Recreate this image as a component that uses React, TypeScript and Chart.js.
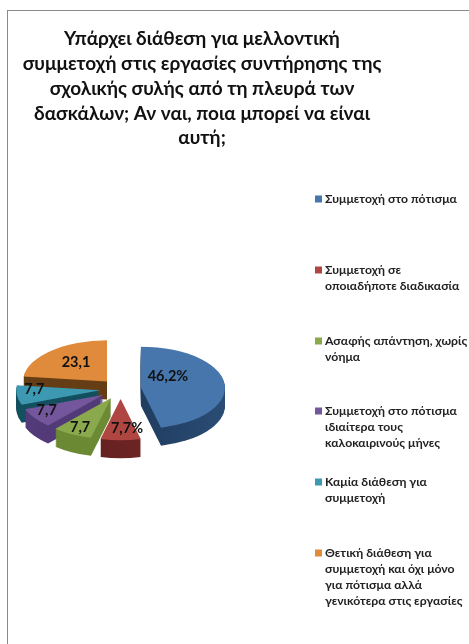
import React, { useEffect, useRef } from "react";
import { Chart, registerables } from "chart.js";

Chart.register(...registerables);

const titleLines = [
  "Υπάρχει διάθεση για μελλοντική",
  "συμμετοχή στις εργασίες συντήρησης της",
  "σχολικής συλής από τη πλευρά των",
  "δασκάλων; Αν ναι, ποια μπορεί να είναι",
  "αυτή;",
];
const legendLines = [
  ["Συμμετοχή στο πότισμα"],
  ["Συμμετοχή σε", "οποιαδήποτε διαδικασία"],
  ["Ασαφής απάντηση, χωρίς", "νόημα"],
  ["Συμμετοχή στο πότισμα", "ιδιαίτερα τους", "καλοκαιρινούς μήνες"],
  ["Καμία διάθεση για", "συμμετοχή"],
  ["Θετική διάθεση για", "συμμετοχή και όχι μόνο", "για πότισμα αλλά", "γενικότερα στις εργασίες"],
];
const values = [46.2, 7.7, 7.7, 7.7, 7.7, 23.1];
const valueLabels = ["46,2%", "7,7%", "7,7", "7,7", "7,7", "23,1"];
const topColors = ["#4676ac", "#b04642", "#8aa84c", "#73569b", "#3d98b2", "#e08b3c"];
const sideLeft = ["#172e4c", "#561a1a", "#55702a", "#3c2a5c", "#104454", "#5c3814"];
const sideRight = ["#2a4c74", "#7c2c2a", "#6c8a34", "#533a78", "#14505f", "#663e16"];

const layoutCfg = {
  cx: 120.6, cy: 389, squash: 0.49, depth: 18,
  drawOrder: [5, 4, 3, 2, 1, 0],
  labelShift: [[27, -11], [6.4, 29], [-31, 29], [-57, 16], [-66, -1], [-31, -19]],
  legendBoxX: 315, legendTextX: 325, legendLineH: 16,
  legendTops: [199, 270, 341, 411, 482, 553],
};
const FONT = 'Lato, Roboto, "Noto Sans", sans-serif';

const pie3d = {
  id: "pie3d",
  beforeDatasetDraw(chart: any) {
    const { ctx } = chart;
    const arcs = chart.getDatasetMeta(0).data;
    const { cx, cy, squash, depth, drawOrder, labelShift } = layoutCfg;
    const apex = (arc: any) => {
      const p = arc.getProps(["startAngle", "endAngle", "outerRadius"], true);
      const mid = (p.startAngle + p.endAngle) / 2;
      const off = arc.options.offset;
      return { ...p, X: cx + Math.cos(mid) * off, Y: cy + Math.sin(mid) * off * squash };
    };
    const path = (a: any, dy: number) => {
      ctx.beginPath();
      ctx.moveTo(a.X, a.Y + dy);
      ctx.ellipse(a.X, a.Y + dy, a.outerRadius, a.outerRadius * squash, 0, a.startAngle, a.endAngle);
      ctx.closePath();
    };
    ctx.save();
    for (const i of drawOrder) {
      const a = apex(arcs[i]);
      const g = ctx.createLinearGradient(a.X - a.outerRadius, 0, a.X + a.outerRadius, 0);
      g.addColorStop(0, sideLeft[i]);
      g.addColorStop(1, sideRight[i]);
      ctx.fillStyle = i === 0 || i === 1 ? g : sideRight[i];
      for (let d = depth; d > 0; d--) {
        path(a, d);
        ctx.fill();
      }
      ctx.fillStyle = arcs[i].options.backgroundColor;
      path(a, 0);
      ctx.fill();
    }
    ctx.fillStyle = "#111";
    ctx.font = `bold 14.5px ${FONT}`;
    ctx.textAlign = "center";
    ctx.textBaseline = "middle";
    arcs.forEach((arc: any, i: number) => {
      const a = apex(arc);
      ctx.fillText(valueLabels[i], a.X + labelShift[i][0], a.Y + labelShift[i][1]);
    });
    ctx.restore();
    return false;
  },
  afterDraw(chart: any) {
    const { ctx } = chart;
    const { legendBoxX, legendTextX, legendLineH, legendTops } = layoutCfg;
    ctx.save();
    ctx.font = `bold 12.2px ${FONT}`;
    ctx.textAlign = "left";
    ctx.textBaseline = "middle";
    legendLines.forEach((lines, i) => {
      ctx.fillStyle = topColors[i];
      ctx.fillRect(legendBoxX, legendTops[i] - 3.5, 7, 7);
      ctx.fillStyle = "#222";
      lines.forEach((t, j) => ctx.fillText(t, legendTextX, legendTops[i] + j * legendLineH));
    });
    ctx.restore();
  },
};

export default function App() {
  const ref = useRef<HTMLCanvasElement>(null);
  useEffect(() => {
    const chart = new Chart(ref.current!, {
      type: "pie",
      data: {
        labels: legendLines.map((l) => l.join(" ")),
        datasets: [{ data: values, backgroundColor: topColors, offset: 20.5, radius: 84, borderWidth: 0 } as any],
      },
      options: {
        responsive: false,
        animation: false,
        layout: { padding: { top: 27, right: 65 } },
        plugins: {
          legend: { display: false },
          tooltip: { enabled: false },
          title: {
            display: true,
            text: titleLines,
            color: "#111",
            padding: 0,
            font: { family: FONT, weight: "bold", size: 19, lineHeight: 1.3 },
          },
        },
      } as any,
      plugins: [pie3d],
    });
    return () => chart.destroy();
  }, []);
  return (
    <div style={{ position: "absolute", left: 0, top: 0, width: 469, height: 644, background: "#fff", overflow: "hidden" }}>
      <div style={{ position: "absolute", left: 7, top: 10, right: 0, bottom: 0, borderLeft: "1px solid #8a8a8a", borderTop: "1px solid #8a8a8a" }} />
      <canvas ref={ref} width={469} height={644} style={{ position: "absolute", left: 0, top: 0 }} />
    </div>
  );
}
